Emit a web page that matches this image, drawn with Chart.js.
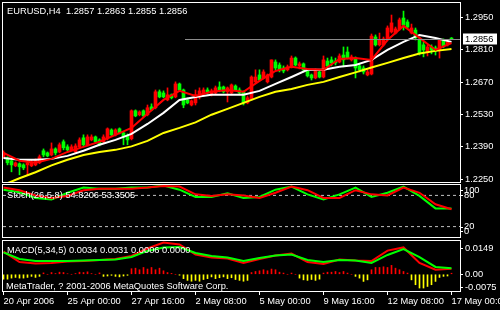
<!DOCTYPE html>
<html><head><meta charset="utf-8">
<script src="https://cdn.jsdelivr.net/npm/chart.js@4.4.1/dist/chart.umd.min.js"></script>
<style>
html,body{margin:0;padding:0;background:#000;width:500px;height:310px;overflow:hidden}
canvas{position:absolute;left:0}
</style></head><body>
<canvas id="c1" width="500" height="183" style="top:0"></canvas>
<canvas id="c2" width="500" height="56" style="top:183px"></canvas>
<canvas id="c3" width="500" height="71" style="top:239px"></canvas>
<script>
const chartTitle = 'EURUSD,H4  1.2857 1.2863 1.2855 1.2856';
const stochTitle = 'Stoch(26,5,8) 54.8206 53.3505';
const macdTitle = 'MACD(5,34,5) 0.0034 0.0031 0.0006 0.0000';
const copyright = 'MetaTrader, ? 2001-2006 MetaQuotes Software Corp.';

const barOpen = [1.2347,1.2342,1.2330,1.2308,1.2317,1.2312,1.2312,1.2308,1.2312,1.2321,
1.2373,1.2364,1.2355,1.2381,1.2368,1.2412,1.2390,1.2377,1.2368,1.2390,
1.2429,1.2399,1.2420,1.2433,1.2420,1.2412,1.2429,1.2463,1.2442,1.2468,
1.2450,1.2437,1.2425,1.2546,1.2529,1.2546,1.2529,1.2563,1.2559,1.2628,
1.2623,1.2593,1.2615,1.2606,1.2662,1.2636,1.2593,1.2571,1.2580,1.2606,
1.2619,1.2636,1.2619,1.2623,1.2649,1.2649,1.2628,1.2623,1.2653,1.2636,
1.2628,1.2580,1.2597,1.2671,1.2701,1.2688,1.2671,1.2692,1.2757,1.2744,
1.2731,1.2723,1.2736,1.2774,1.2740,1.2749,1.2718,1.2701,1.2688,1.2714,
1.2692,1.2761,1.2766,1.2761,1.2757,1.2787,1.2800,1.2766,1.2774,1.2740,
1.2731,1.2701,1.2705,1.2865,1.2831,1.2831,1.2857,1.2887,1.2882,1.2900,
1.2947,1.2930,1.2882,1.2895,1.2852,1.2831,1.2800,1.2822,1.2818,1.2809,
1.2852,1.2831,1.2857];
const barHigh = [1.2373,1.2347,1.2334,1.2325,1.2321,1.2317,1.2334,1.2334,1.2338,1.2355,
1.2381,1.2368,1.2407,1.2386,1.2407,1.2420,1.2399,1.2399,1.2403,1.2429,
1.2442,1.2442,1.2442,1.2437,1.2425,1.2442,1.2472,1.2468,1.2468,1.2472,
1.2455,1.2446,1.2550,1.2550,1.2546,1.2550,1.2571,1.2576,1.2636,1.2636,
1.2632,1.2645,1.2619,1.2671,1.2666,1.2640,1.2602,1.2593,1.2636,1.2645,
1.2645,1.2645,1.2640,1.2653,1.2671,1.2653,1.2649,1.2662,1.2658,1.2645,
1.2632,1.2610,1.2697,1.2723,1.2723,1.2723,1.2705,1.2766,1.2766,1.2753,
1.2740,1.2744,1.2783,1.2779,1.2757,1.2753,1.2723,1.2705,1.2727,1.2718,
1.2783,1.2774,1.2779,1.2774,1.2792,1.2822,1.2822,1.2787,1.2779,1.2749,
1.2740,1.2723,1.2878,1.2874,1.2882,1.2865,1.2913,1.2960,1.2908,1.2947,
1.2977,1.2939,1.2921,1.2904,1.2861,1.2844,1.2831,1.2831,1.2826,1.2857,
1.2857,1.2852,1.2863];
const barLow = [1.2342,1.2312,1.2282,1.2304,1.2269,1.2291,1.2269,1.2304,1.2308,1.2317,
1.2347,1.2347,1.2351,1.2355,1.2364,1.2377,1.2373,1.2373,1.2364,1.2386,
1.2390,1.2394,1.2416,1.2407,1.2394,1.2407,1.2420,1.2437,1.2437,1.2446,
1.2399,1.2399,1.2420,1.2520,1.2524,1.2520,1.2524,1.2546,1.2554,1.2602,
1.2602,1.2589,1.2597,1.2602,1.2632,1.2559,1.2576,1.2567,1.2571,1.2597,
1.2610,1.2619,1.2610,1.2619,1.2628,1.2623,1.2584,1.2615,1.2632,1.2615,
1.2571,1.2576,1.2593,1.2666,1.2675,1.2684,1.2666,1.2688,1.2723,1.2714,
1.2710,1.2718,1.2731,1.2740,1.2727,1.2714,1.2692,1.2679,1.2684,1.2688,
1.2688,1.2736,1.2740,1.2744,1.2753,1.2736,1.2770,1.2761,1.2688,1.2714,
1.2705,1.2697,1.2701,1.2826,1.2826,1.2826,1.2852,1.2882,1.2878,1.2895,
1.2895,1.2904,1.2878,1.2852,1.2787,1.2779,1.2783,1.2792,1.2787,1.2774,
1.2818,1.2826,1.2855];
const barClose = [1.2364,1.2321,1.2312,1.2321,1.2304,1.2299,1.2321,1.2325,1.2330,1.2347,
1.2355,1.2351,1.2381,1.2364,1.2399,1.2386,1.2377,1.2390,1.2394,1.2420,
1.2399,1.2433,1.2433,1.2412,1.2399,1.2433,1.2468,1.2442,1.2463,1.2450,
1.2433,1.2420,1.2546,1.2524,1.2541,1.2524,1.2559,1.2550,1.2628,1.2606,
1.2606,1.2615,1.2602,1.2662,1.2636,1.2571,1.2580,1.2589,1.2615,1.2632,
1.2636,1.2628,1.2632,1.2645,1.2632,1.2628,1.2645,1.2658,1.2636,1.2623,
1.2580,1.2602,1.2692,1.2692,1.2679,1.2714,1.2701,1.2766,1.2731,1.2723,
1.2718,1.2736,1.2774,1.2744,1.2749,1.2723,1.2697,1.2688,1.2718,1.2692,
1.2766,1.2740,1.2753,1.2753,1.2783,1.2766,1.2774,1.2779,1.2731,1.2723,
1.2714,1.2714,1.2869,1.2831,1.2852,1.2857,1.2904,1.2926,1.2900,1.2939,
1.2917,1.2908,1.2904,1.2861,1.2796,1.2809,1.2822,1.2809,1.2805,1.2852,
1.2826,1.2844,1.2856];

// indicator readings taken every 4th bar
const sampleIdx = [0,4,8,12,16,20,24,28,32,36,40,44,48,52,56,60,64,68,72,76,80,84,88,92,96,100,104,108,112];
const maFast = [1.2364,1.2330,1.2321,1.2338,1.2368,1.2390,1.2412,1.2442,1.2472,1.2533,1.2593,1.2632,1.2610,1.2628,1.2636,1.2628,1.2675,1.2718,1.2736,1.2727,1.2723,1.2770,1.2774,1.2766,1.2852,1.2913,1.2861,1.2809,1.2839];
const maMid = [1.2342,1.2334,1.2334,1.2338,1.2351,1.2373,1.2399,1.2420,1.2446,1.2489,1.2537,1.2593,1.2606,1.2615,1.2615,1.2615,1.2632,1.2662,1.2692,1.2723,1.2723,1.2736,1.2744,1.2766,1.2809,1.2844,1.2874,1.2861,1.2844];
const maSlow = [1.2226,1.2254,1.2280,1.2310,1.2334,1.2355,1.2368,1.2377,1.2392,1.2416,1.2450,1.2472,1.2496,1.2529,1.2554,1.2580,1.2606,1.2628,1.2640,1.2658,1.2671,1.2692,1.2712,1.2733,1.2753,1.2774,1.2794,1.2805,1.2813];
const stochMain = [91,86,75,72,85,95,93,93,95,95,99,91,77,77,84,75,77,91,97,82,72,82,95,77,85,97,79,55,54.82];
const stochSignal = [95,90,80,75,79,90,93,93,93,95,98,97,82,79,82,80,75,85,97,90,75,75,90,82,80,95,85,63,53.35];
const stochLevels = [20,80];
const stochTicks = [100,80,20,0];
const macdMain = [0.0130,0.0070,0.0062,0.0065,0.0073,0.0076,0.0082,0.0088,0.0105,0.0148,0.0182,0.0171,0.0113,0.0096,0.0091,0.0065,0.0088,0.0108,0.0119,0.0070,0.0059,0.0085,0.0079,0.0076,0.0136,0.0154,0.0065,0.0026,0.0031];
const macdSignal = [0.0126,0.0088,0.0076,0.0076,0.0076,0.0079,0.0082,0.0085,0.0099,0.0134,0.0154,0.0156,0.0122,0.0105,0.0096,0.0076,0.0093,0.0108,0.0113,0.0082,0.0070,0.0082,0.0079,0.0065,0.0111,0.0145,0.0099,0.0042,0.0034];
const macdHist = [-0.0028,-0.0028,-0.0022,-0.0018,-0.0022,-0.0022,-0.0018,-0.0012,-0.0018,-0.0012,
0.0008,0,0.0010,0.0004,0.0012,0.0010,0.0003,0,0.0004,0.0012,0.0010,0.0014,0.0004,0,0.0008,
-0.0012,-0.0010,-0.0006,-0.0012,-0.0015,-0.0010,-0.0006,
0.0032,0.0035,0.0026,0.0039,0.0030,0.0039,0.0026,0.0035,0.0020,
0.0010,0.0005,0,-0.0005,
-0.0025,-0.0035,-0.0040,-0.0035,-0.0040,-0.0030,-0.0025,-0.0015,-0.0025,-0.0020,-0.0015,-0.0025,-0.0020,-0.0030,-0.0035,-0.0040,-0.0035,
0.0010,0.0016,0.0020,0.0026,0.0020,0.0030,0.0026,0.0012,0.0007,0,0.0007,0,
-0.0022,-0.0032,-0.0035,-0.0030,-0.0035,-0.0028,
0.0007,0.0012,0.0012,0.0016,0.0010,0.0016,0.0007,0,
-0.0012,-0.0022,-0.0041,-0.0032,
0.0026,0.0039,0.0039,0.0043,0.0039,0.0051,0.0035,0.0026,0.0016,0.0007,
-0.0032,-0.0060,-0.0079,-0.0079,-0.0070,-0.0060,-0.0041,-0.0018,-0.0012,-0.0010,
0.0006];
const priceTicks = [1.2250,1.2390,1.2530,1.2670,1.2810,1.2950];
const macdTicks = [0.0149,0,-0.0075];
const macdTickLabels = ['0.0149','0.00','-0.0075'];
const timeTickIdx = [0,16,32,48,64,80,96,112];
const timeTickLabels = ['20 Apr 2006','25 Apr 00:00','27 Apr 16:00','2 May 08:00','5 May 00:00','9 May 16:00','12 May 08:00','17 May 00:00'];

const FONT = '"Liberation Sans", Arial, sans-serif';
const FS = 9.3;
Chart.defaults.font.family = FONT;
Chart.defaults.font.size = FS;

const X_MIN = -0.125, X_MAX = 114.125;
const lastClose = barClose[barClose.length - 1];

function pts(vals){ return sampleIdx.map((b,k)=>({x:b, y:vals[k]})); }
function hiddenX(){ return {type:'linear', min:X_MIN, max:X_MAX, offset:false, grid:{offset:false}, display:false}; }
function fitY(s){ s.width = 40; s.paddingTop = 0; s.paddingBottom = 0; }
function lineDs(data, color, order){
  return {type:'line', data, borderColor:color, borderWidth:2, pointRadius:0, tension:0, order, fill:false};
}
const framePlugin = {
  id:'frame',
  afterDraw(chart){
    const a = chart.chartArea, c = chart.ctx;
    c.save(); c.strokeStyle = '#fff'; c.lineWidth = 1;
    c.strokeRect(a.left - 0.5, a.top - 0.5, a.right - a.left + 1, a.bottom - a.top + 1);
    c.restore();
  }
};
function textPlugin(items){
  return {id:'txt', afterDraw(chart){
    const c = chart.ctx; c.save();
    c.font = FS + 'px ' + FONT; c.fillStyle = '#fff'; c.textBaseline = 'middle'; c.textAlign = 'left';
    items.forEach(t => c.fillText(t[0], t[1], t[2]));
    c.restore();
  }};
}
const baseOpts = {responsive:false, animation:false, events:[],
  plugins:{legend:{display:false}, tooltip:{enabled:false}}};

// ---------- main price chart ----------
const candleColor = ctx => barClose[ctx.dataIndex] >= barOpen[ctx.dataIndex] ? '#ff0000' : '#00ff00';
const bidPlugin = {
  id:'bid',
  afterDraw(chart){
    const a = chart.chartArea, c = chart.ctx, y = Math.round(chart.scales.y.getPixelForValue(lastClose)) + 0.5;
    c.save();
    c.strokeStyle = '#8c8c8c'; c.lineWidth = 1;
    c.beginPath(); c.moveTo(a.left + 182, y); c.lineTo(a.right, y); c.stroke();
    c.fillStyle = '#fff'; c.fillRect(a.right + 3, y - 6, 34, 11);
    c.fillStyle = '#000'; c.font = FS + 'px ' + FONT; c.textBaseline = 'middle';
    c.fillText(lastClose.toFixed(4), a.right + 5, y);
    c.restore();
  }
};
new Chart(document.getElementById('c1'), {
  type:'bar',
  data:{datasets:[
    lineDs(pts(maSlow), '#ffff00', 4),
    lineDs(pts(maMid), '#ffffff', 3),
    lineDs(pts(maFast), '#ff0000', 2),
    {data:barOpen.map((o,i)=>({x:i, y:[barLow[i], barHigh[i]]})), backgroundColor:candleColor,
     barThickness:1, grouped:false, borderWidth:0, order:10},
    {data:barOpen.map((o,i)=>({x:i, y:[o, barClose[i]]})), backgroundColor:candleColor,
     barThickness:3, grouped:false, borderWidth:0, minBarLength:1, order:9}
  ]},
  options:Object.assign({}, baseOpts, {
    layout:{padding:{left:3, top:3, right:0, bottom:1}},
    scales:{
      x:hiddenX(),
      y:{type:'linear', position:'right', min:1.2238, max:1.3012,
         afterBuildTicks:s=>{ s.ticks = priceTicks.map(v=>({value:v})); },
         afterFit:fitY,
         ticks:{color:'#fff', padding:2, callback:v=>Number(v).toFixed(4)},
         grid:{drawOnChartArea:false, tickLength:3, color:'#fff', tickColor:'#fff'},
         border:{display:false}}
    }
  }),
  plugins:[framePlugin, bidPlugin, textPlugin([[chartTitle, 7, 11]])]
});

// ---------- stochastic ----------
const stochLabelPlugin = {
  id:'stochLabels',
  afterDraw(chart){
    const a = chart.chartArea, c = chart.ctx, s = chart.scales.y;
    c.save(); c.font = FS + 'px ' + FONT; c.fillStyle = '#fff'; c.strokeStyle = '#fff';
    c.textBaseline = 'middle';
    stochTicks.forEach(v => {
      const y = Math.min(Math.max(s.getPixelForValue(v), a.top + 5), a.bottom - 6);
      c.beginPath(); c.moveTo(a.right, Math.round(y) + 0.5); c.lineTo(a.right + 3, Math.round(y) + 0.5); c.stroke();
      c.fillText(String(v), a.right + 4, y);
    });
    c.restore();
  }
};
new Chart(document.getElementById('c2'), {
  type:'line',
  data:{datasets:[
    ...stochLevels.map(l => ({data:[{x:X_MIN, y:l},{x:X_MAX, y:l}], borderColor:'#c0c0c0', borderWidth:1,
      borderDash:[3,3], pointRadius:0, order:5})),
    lineDs(pts(stochMain), '#00ff00', 2),
    lineDs(pts(stochSignal), '#ff0000', 1)
  ]},
  options:Object.assign({}, baseOpts, {
    layout:{padding:{left:3, top:2, right:0, bottom:2}},
    scales:{
      x:hiddenX(),
      y:{type:'linear', position:'right', min:0, max:100, afterFit:fitY,
         ticks:{display:false}, grid:{display:false}, border:{display:false}}
    }
  }),
  plugins:[framePlugin, stochLabelPlugin, textPlugin([[stochTitle, 7, 12]])]
});

// ---------- MACD ----------
new Chart(document.getElementById('c3'), {
  type:'bar',
  data:{datasets:[
    {data:macdHist.map((v,i)=>({x:i, y:v})), backgroundColor:c=>macdHist[c.dataIndex] >= 0 ? '#ff0000' : '#ffff00',
     barThickness:1, grouped:false, borderWidth:0, order:10},
    lineDs(pts(macdMain), '#ff0000', 2),
    lineDs(pts(macdSignal), '#00ff00', 1)
  ]},
  options:Object.assign({}, baseOpts, {
    layout:{padding:{left:3, top:2, right:0, bottom:0}},
    scales:{
      x:{type:'linear', min:X_MIN, max:X_MAX, offset:false,
         afterBuildTicks:s=>{ s.ticks = timeTickIdx.map(v=>({value:v})); },
         afterFit:s=>{ s.height = 19; s.paddingLeft = 0; s.paddingRight = 0; },
         ticks:{color:'#fff', align:'start', padding:1, maxRotation:0, autoSkip:false,
                callback:v=>timeTickLabels[timeTickIdx.indexOf(v)]},
         grid:{offset:false, drawOnChartArea:false, tickLength:4, color:'#fff', tickColor:'#fff'},
         border:{display:false}},
      y:{type:'linear', position:'right', min:-0.0096, max:0.0191,
         afterBuildTicks:s=>{ s.ticks = macdTicks.map(v=>({value:v})); },
         afterFit:fitY,
         ticks:{color:'#fff', padding:2, callback:v=>macdTickLabels[macdTicks.indexOf(v)]},
         grid:{drawOnChartArea:false, tickLength:3, color:'#fff', tickColor:'#fff'},
         border:{display:false}}
    }
  }),
  plugins:[framePlugin, textPlugin([[macdTitle, 7, 11],[copyright, 6, 47]])]
});
</script>
</body></html>
